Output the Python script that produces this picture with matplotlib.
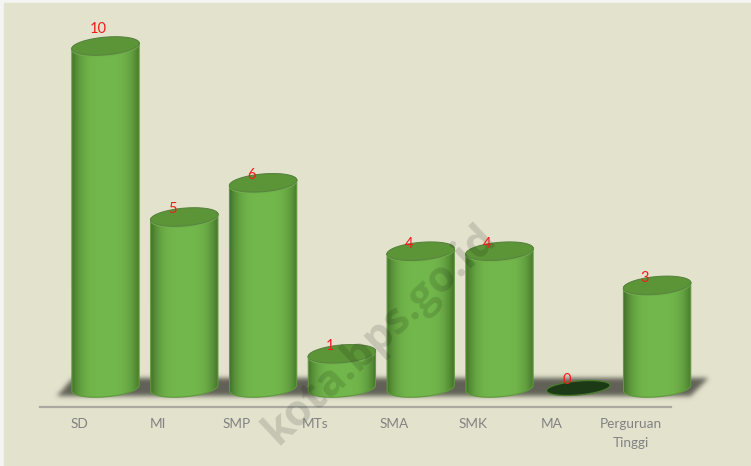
import numpy as np
import matplotlib
matplotlib.use("Agg")
import matplotlib.pyplot as plt
from matplotlib.patches import Polygon, Rectangle
from matplotlib.colors import to_rgb

# Data
categories = ["SD", "MI", "SMP", "MTs", "SMA", "SMK", "MA", "Perguruan\nTinggi"]
values = [10, 5, 6, 1, 4, 4, 0, 3]

# Layout constants, all in reference pixels
W, H = 751, 466
X0, DX = 105.5, 78.8   # centre of first bar, bar spacing
Y0, DY = 388.0, 34.2   # baseline, pixels per unit
BAR_W = 67.5
ELL_H = 17.6
TILT = np.radians(5)

BG = "#e3e2cd"
EDGE = np.array(to_rgb("#3f6b27"))
MID = np.array(to_rgb("#73b84c"))


# Scale helpers: the axes keep category/value units
def ux(px):
    return px / DX


def uy(px):
    return px / DY


def ellipse(cx, cy, a=BAR_W / 2, b=ELL_H / 2, n=120):
    # cx, cy in data units, tilted in screen space so it rises to the right
    t = np.linspace(0, 2 * np.pi, n)
    px = a * np.cos(t) * np.cos(TILT) - b * np.sin(t) * np.sin(TILT)
    py = a * np.cos(t) * np.sin(TILT) + b * np.sin(t) * np.cos(TILT)
    return np.column_stack([cx + ux(px), cy + uy(py)])


def side_profile(n=256):
    k = np.abs(np.linspace(-1, 1, n))[:, None] ** 3.5
    return (MID * (1 - k) + EDGE * k)[None, :, :]


def blur(img, sigma):
    r = int(sigma * 3)
    k = np.exp(-0.5 * (np.arange(-r, r + 1) / sigma) ** 2)
    k /= k.sum()
    img = np.apply_along_axis(lambda m: np.convolve(m, k, mode="same"), 0, img)
    return np.apply_along_axis(lambda m: np.convolve(m, k, mode="same"), 1, img)


fig = plt.figure(figsize=(W / 100, H / 100), dpi=100, facecolor="#f4f4f2")
ax = fig.add_axes([0, 0, 1, 1])
xlim = ((0 - X0) / DX, (W - X0) / DX)
ylim = ((Y0 - H) / DY, Y0 / DY)
ax.axis("off")

# Background panel
ax.add_patch(Rectangle((xlim[0] + ux(4), ylim[0]), ux(W), uy(H - 3), color=BG, zorder=0))

# Floor shadow
yy, xx = np.mgrid[0:H, 0:W]
t = (395 - yy) / 17.0
mask = (t >= 0) & (t <= 1) & (xx >= 57 + 15 * t) & (xx <= 690 + 17 * t)
alpha = blur(mask.astype(float), 2.4) * 0.85
shadow = np.zeros((H, W, 4))
shadow[..., :3] = to_rgb("#4a4a42")
shadow[..., 3] = alpha
ax.imshow(shadow, extent=(xlim[0], xlim[1], ylim[0], ylim[1]), aspect="auto", zorder=1)

# Baseline
ax.plot([ux(40 - X0), ux(671 - X0)], [uy(Y0 - 407)] * 2, color="#a9a9a2", lw=1.6, zorder=2)

# Cylinders
for i, v in enumerate(values):
    base = ellipse(i, 0)
    if v == 0:
        ax.add_patch(Polygon(ellipse(i, 0, a=32, b=7), fc="#1d3a17", ec="#4d7a33", lw=1, zorder=3))
        continue
    top = ellipse(i, v)
    lower = base[(base[:, 1] <= np.interp(base[:, 0], [i - ux(34), i + ux(34)],
                                          [-uy(3), uy(3)]))]
    lower = lower[np.argsort(lower[:, 0])]
    upper = top[np.argsort(top[:, 0])]
    outline = np.vstack([lower, upper[::-1]])
    body = Polygon(outline, fc="none", ec="none", zorder=3)
    ax.add_patch(body)
    im = ax.imshow(side_profile(), extent=(i - ux(34.5), i + ux(34.5), -uy(12), v + uy(12)),
                   aspect="auto", zorder=3)
    im.set_clip_path(body)
    ax.add_patch(Polygon(outline, fc="none", ec="#5f9a3c", lw=0.8, zorder=4))
    # lighter rim just under the lid
    ax.add_patch(Polygon(ellipse(i, v - uy(1.6)), fc="#6fb04a", ec="none", zorder=4.5))
    ax.add_patch(Polygon(top, fc="#5c9538", ec="#5a8540", lw=0.8, zorder=5))

# Value labels
for i, v in enumerate(values):
    off_x, off_y = (-7, 17) if v == 10 else (-12, 7.5)
    ax.text(i + ux(off_x), v + uy(off_y), str(v), color="#f51a1a", fontsize=10.5,
            family="Lato", ha="center", va="center", zorder=7)

# Category labels
for i, c in enumerate(categories):
    ax.text(i + ux(-26.5), uy(Y0 - 418.5), c, color="#828282", fontsize=9.8, family="Lato",
            ha="center", va="top", linespacing=1.65, zorder=7)

# Watermark
ax.text(ux(490 - X0), uy(Y0 - 232), "kota.bps.go.id", color="black", alpha=0.13,
        fontsize=31, family="Open Sans", fontweight="bold", rotation=43,
        rotation_mode="anchor", ha="right", va="center", zorder=6)

ax.set_xlim(xlim)
ax.set_ylim(ylim)
fig.savefig("out.png", dpi=100, facecolor=fig.get_facecolor())
